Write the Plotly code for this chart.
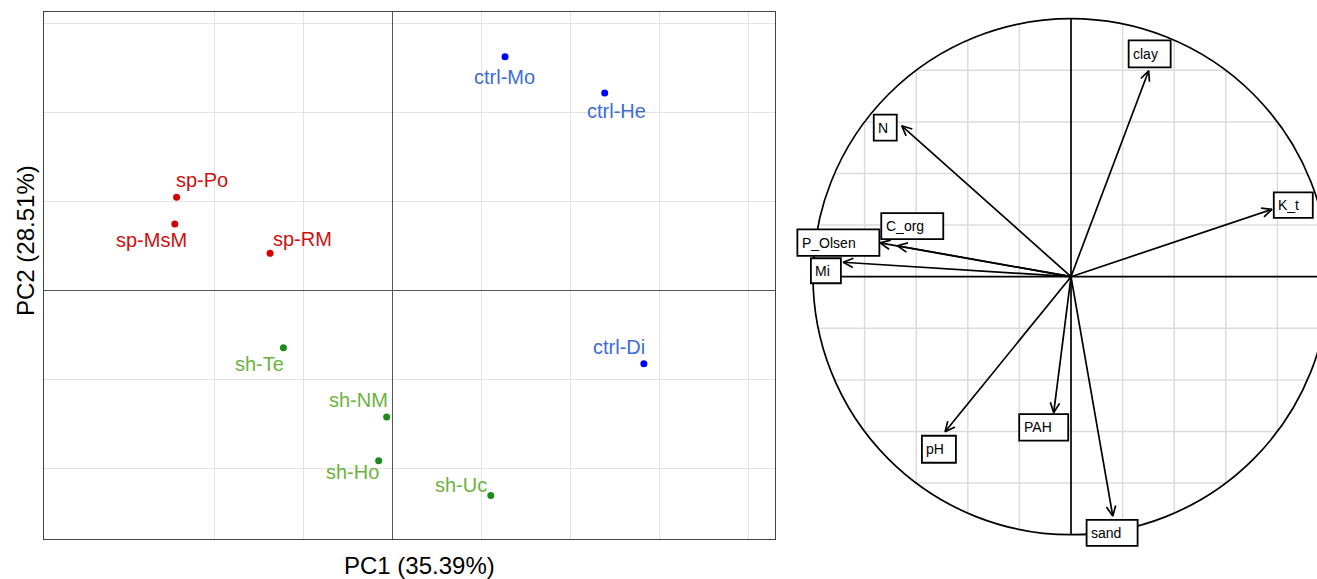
import math
import plotly.graph_objects as go

# ---------------- data ----------------
# individuals: PCA scores (in grid units of the score plot)
samples = ["sp-Po", "sp-MsM", "sp-RM", "ctrl-Mo", "ctrl-He",
           "sh-Te", "sh-NM", "sh-Ho", "ctrl-Di", "sh-Uc"]
groups = ["sp", "sp", "sp", "ctrl", "ctrl", "sh", "sh", "sh", "ctrl", "sh"]
pc1 = [-2.42, -2.44, -1.37, 1.27, 2.39, -1.22, -0.06, -0.15, 2.83, 1.11]
pc2 = [1.05, 0.75, 0.42, 2.63, 2.22, -0.64, -1.42, -1.91, -0.82, -2.30]

# variables: correlations with PC1 / PC2
variables = ["clay", "N", "K_t", "C_org", "P_Olsen", "Mi", "pH", "PAH", "sand"]
var_pc1 = [0.301, -0.656, 0.779, -0.673, -0.740, -0.883, -0.488, -0.067, 0.162]
var_pc2 = [0.798, 0.585, 0.261, 0.120, 0.131, 0.056, -0.601, -0.527, -0.928]

x_title = "PC1 (35.39%)"
y_title = "PC2 (28.51%)"

# ---------------- layout / style ----------------
W, H = 1317, 579
FONT = "Liberation Sans, Arial, sans-serif"

# left panel (pixels)
L_LEFT, L_RIGHT, L_TOP, L_BOTTOM = 44, 775, 12, 539
L_OX, L_OY, L_SCALE = 392, 290.7, 89.0

# right panel (pixels)
R_LEFT = 780
R_CX, R_CY, R_SCALE = 1071, 276.7, 258.0

point_colors = {"sp": "#D50000", "ctrl": "#0000FF", "sh": "#1E8B1E"}
label_colors = {"sp": "#CC1010", "ctrl": "#3D6DD4", "sh": "#6BB33E"}

# label offsets in px (dx right, dy down) relative to the point
label_offsets = {
    "sp-Po": (25, -17), "sp-MsM": (-23, 16), "sp-RM": (32, -14),
    "ctrl-Mo": (-1, 20), "ctrl-He": (12, 18), "sh-Te": (-24, 16),
    "sh-NM": (-28, -17), "sh-Ho": (-26, 11), "ctrl-Di": (-25, -17),
    "sh-Uc": (-30, -10),
}

# variable label boxes: center offset from arrow tip (px, y down) and size (px)
box_offsets = {
    "N": (-16.5, 1.8), "C_org": (14.9, -19.7), "P_Olsen": (-41.7, -0.3),
    "Mi": (-17.3, 8.5), "clay": (1.0, -16.9), "K_t": (21.3, -4.3),
    "pH": (-6.2, 17.5), "PAH": (-10.0, 14.8), "sand": (-0.7, 16.7),
}
box_sizes = {
    "N": (23, 26), "C_org": (62, 26), "P_Olsen": (82, 26.5), "Mi": (30, 25),
    "clay": (42, 27), "K_t": (39, 25.5), "pH": (34, 27), "PAH": (49, 26.5),
    "sand": (51, 26),
}
BOX_PAD = 3.5
GRID_STEP = 0.2
LINE_W = 1.7

fig = go.Figure()

# ---------------- left panel: individuals ----------------
for g in ["sp", "ctrl", "sh"]:
    xs = [x for x, gg in zip(pc1, groups) if gg == g]
    ys = [y for y, gg in zip(pc2, groups) if gg == g]
    fig.add_trace(go.Scatter(
        x=xs, y=ys, mode="markers", xaxis="x", yaxis="y",
        marker=dict(size=7, color=point_colors[g]), showlegend=False,
        hoverinfo="skip"))

annotations = []
for name, g, x, y in zip(samples, groups, pc1, pc2):
    dx, dy = label_offsets[name]
    annotations.append(dict(
        x=x, y=y, xref="x", yref="y", text=name, showarrow=False,
        xshift=dx, yshift=-dy, xanchor="center", yanchor="middle",
        font=dict(family=FONT, size=20, color=label_colors[g])))

# axis titles
annotations.append(dict(
    x=419.5 / W, y=1 - 565 / H, xref="paper", yref="paper", text=x_title,
    showarrow=False, xanchor="center", yanchor="middle", borderpad=0,
    font=dict(family=FONT, size=24, color="#000000")))
annotations.append(dict(
    x=25 / W, y=1 - 241 / H, xref="paper", yref="paper", text=y_title,
    showarrow=False, xanchor="center", yanchor="middle", textangle=-90,
    borderpad=0, font=dict(family=FONT, size=24, color="#000000")))

# ---------------- right panel: correlation circle ----------------
shapes = []
# grid clipped to unit circle
n = int(round(1 / GRID_STEP))
for k in range(-n + 1, n):
    if k == 0:
        continue
    v = k * GRID_STEP
    h = math.sqrt(1 - v * v)
    shapes.append(dict(type="line", xref="x2", yref="y2", x0=v, x1=v, y0=-h, y1=h,
                       line=dict(color="#DCDCDC", width=1.5), layer="below"))
    shapes.append(dict(type="line", xref="x2", yref="y2", x0=-h, x1=h, y0=v, y1=v,
                       line=dict(color="#DCDCDC", width=1.5), layer="below"))
# axes
shapes.append(dict(type="line", xref="x2", yref="y2", x0=-1, x1=1, y0=0, y1=0,
                   line=dict(color="#000000", width=LINE_W), layer="below"))
shapes.append(dict(type="line", xref="x2", yref="y2", x0=0, x1=0, y0=-1, y1=1,
                   line=dict(color="#000000", width=LINE_W), layer="below"))
# circle
shapes.append(dict(type="circle", xref="x2", yref="y2", x0=-1, x1=1, y0=-1, y1=1,
                   line=dict(color="#000000", width=LINE_W), layer="below"))

# arrows with open heads
head_len = 11.0 / R_SCALE
head_ang = math.radians(25)
ax_x, ax_y = [], []
for x, y in zip(var_pc1, var_pc2):
    th = math.atan2(y, x)
    w1 = (x + head_len * math.cos(th + math.pi - head_ang),
          y + head_len * math.sin(th + math.pi - head_ang))
    w2 = (x + head_len * math.cos(th + math.pi + head_ang),
          y + head_len * math.sin(th + math.pi + head_ang))
    ax_x += [0, x, None, w1[0], x, w2[0], None]
    ax_y += [0, y, None, w1[1], y, w2[1], None]
fig.add_trace(go.Scatter(x=ax_x, y=ax_y, mode="lines", xaxis="x2", yaxis="y2",
                         line=dict(color="#000000", width=LINE_W), showlegend=False,
                         hoverinfo="skip"))

# label boxes
for name, x, y in zip(variables, var_pc1, var_pc2):
    ox, oy = box_offsets[name]
    bw, bh = box_sizes[name]
    cx = x + ox / R_SCALE
    cy = y - oy / R_SCALE
    x0 = cx - bw / 2 / R_SCALE
    shapes.append(dict(type="rect", xref="x2", yref="y2",
                       x0=x0, x1=cx + bw / 2 / R_SCALE,
                       y0=cy - bh / 2 / R_SCALE, y1=cy + bh / 2 / R_SCALE,
                       fillcolor="#FFFFFF", line=dict(color="#000000", width=1.8),
                       layer="above"))
    annotations.append(dict(
        x=x0 + BOX_PAD / R_SCALE, y=cy, xref="x2", yref="y2", text=name,
        showarrow=False, xanchor="left", yanchor="middle", borderpad=0,
        font=dict(family=FONT, size=14, color="#000000")))

# ---------------- axes ----------------
fig.update_layout(
    width=W, height=H, autosize=False,
    margin=dict(l=0, r=0, t=0, b=0, pad=0),
    paper_bgcolor="#FFFFFF", plot_bgcolor="#FFFFFF",
    showlegend=False,
    xaxis=dict(
        domain=[L_LEFT / W, L_RIGHT / W],
        range=[(L_LEFT - L_OX) / L_SCALE, (L_RIGHT - L_OX) / L_SCALE],
        tickvals=[-2, -1, 0, 1, 2, 3, 4], showticklabels=False, ticks="",
        showgrid=True, gridcolor="#E4E4E4", gridwidth=1,
        zeroline=True, zerolinecolor="#555555", zerolinewidth=1.2,
        showline=True, mirror=True, linecolor="#444444", linewidth=1.2,
        fixedrange=True),
    yaxis=dict(
        domain=[1 - L_BOTTOM / H, 1 - L_TOP / H],
        range=[(L_OY - L_BOTTOM) / L_SCALE, (L_OY - L_TOP) / L_SCALE],
        tickvals=[-2, -1, 0, 1, 2, 3], showticklabels=False, ticks="",
        showgrid=True, gridcolor="#E4E4E4", gridwidth=1,
        zeroline=True, zerolinecolor="#555555", zerolinewidth=1.2,
        showline=True, mirror=True, linecolor="#444444", linewidth=1.2,
        fixedrange=True),
    xaxis2=dict(
        domain=[R_LEFT / W, 1],
        range=[(R_LEFT - R_CX) / R_SCALE, (W - R_CX) / R_SCALE],
        visible=False, showgrid=False, zeroline=False, fixedrange=True),
    yaxis2=dict(
        domain=[0, 1], anchor="x2",
        range=[(R_CY - H) / R_SCALE, R_CY / R_SCALE],
        visible=False, showgrid=False, zeroline=False, fixedrange=True),
    shapes=shapes,
    annotations=annotations,
)

fig.write_html(
    "out.html",
    config={"displayModeBar": False},
    post_script="document.body.style.margin='0px';document.body.style.padding='0px';"
                "document.body.style.overflow='hidden';")
